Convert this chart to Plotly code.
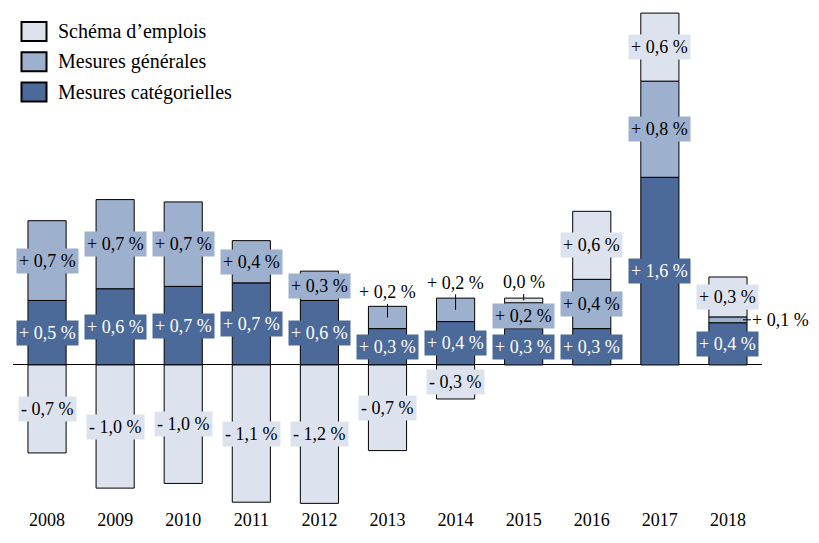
import plotly.graph_objects as go

# ---------------- data ----------------
years = ["2008", "2009", "2010", "2011", "2012", "2013", "2014", "2015", "2016", "2017", "2018"]
categorielles = [0.55, 0.65, 0.67, 0.70, 0.55, 0.31, 0.37, 0.31, 0.31, 1.60, 0.36]
generales = [0.68, 0.76, 0.72, 0.36, 0.25, 0.19, 0.20, 0.22, 0.42, 0.82, 0.05]
schema = [-0.75, -1.05, -1.01, -1.17, -1.18, -0.73, -0.29, 0.04, 0.58, 0.58, 0.34]

lbl_cat = ["+ 0,5 %", "+ 0,6 %", "+ 0,7 %", "+ 0,7 %", "+ 0,6 %", "+ 0,3 %", "+ 0,4 %", "+ 0,3 %", "+ 0,3 %", "+ 1,6 %", "+ 0,4 %"]
lbl_gen = ["+ 0,7 %", "+ 0,7 %", "+ 0,7 %", "+ 0,4 %", "+ 0,3 %", "+ 0,2 %", "+ 0,2 %", "+ 0,2 %", "+ 0,4 %", "+ 0,8 %", "+ 0,1 %"]
lbl_sch = ["- 0,7 %", "- 1,0 %", "- 1,0 %", "- 1,1 %", "- 1,2 %", "- 0,7 %", "- 0,3 %", "0,0 %", "+ 0,6 %", "+ 0,6 %", "+ 0,3 %"]

series_names = ["Schéma d’emplois", "Mesures générales", "Mesures catégorielles"]

# ---------------- style ----------------
C_LIGHT = "#dde3ee"
C_MED = "#9db0ce"
C_DARK = "#4b6a9a"
FONT = "Liberation Serif"
W, H = 819, 543
ML, MR, MT, MB = 13, 57, 7, 36
PW, PH = W - ML - MR, H - MT - MB

# labels drawn outside their segment: (series, index) -> (ax, ay, standoff)
outside = {
    ("gen", 5): (0, -25, 0),
    ("gen", 6): (0, -27, 0),
    ("sch", 7): (0, -18, 0),
    ("gen", 10): (53, 0, 15),
}

fig = go.Figure()
bar_line = dict(color="black", width=1)
fig.add_trace(go.Bar(x=years, y=categorielles, name=series_names[2], marker=dict(color=C_DARK, line=bar_line)))
fig.add_trace(go.Bar(x=years, y=generales, name=series_names[1], marker=dict(color=C_MED, line=bar_line)))
fig.add_trace(go.Bar(x=years, y=schema, name=series_names[0], marker=dict(color=C_LIGHT, line=bar_line)))

annotations = []


def add_label(key, i, y, text, bg, fc):
    # on a category axis annotation x is the category's serial index
    if (key, i) in outside:
        ax, ay, st = outside[(key, i)]
        annotations.append(dict(x=i, y=y, xref="x", yref="y", text=text, showarrow=True,
                                arrowhead=0, arrowwidth=1, arrowcolor="black", ax=ax, ay=ay,
                                standoff=st, font=dict(family=FONT, size=18, color="black")))
    else:
        annotations.append(dict(x=i, y=y, xref="x", yref="y", text=text, showarrow=False,
                                bgcolor=bg, borderpad=2, font=dict(family=FONT, size=18, color=fc)))


for i in range(len(years)):
    c, g, s = categorielles[i], generales[i], schema[i]
    add_label("cat", i, c / 2, lbl_cat[i], C_DARK, "white")
    add_label("gen", i, c + g / 2, lbl_gen[i], C_MED, "black")
    sy = c + g + s / 2 if s >= 0 else s / 2
    add_label("sch", i, sy, lbl_sch[i], C_LIGHT, "black")


# legend drawn manually (larger swatches than plotly's built-in legend)
def px_x(p):
    return (p - ML) / PW


def px_y(p):
    return (MT + PH - p) / PH


shapes = []
legend_rows = [(series_names[0], C_LIGHT, 31.5), (series_names[1], C_MED, 61.7), (series_names[2], C_DARK, 92)]
for name, col, yc in legend_rows:
    shapes.append(dict(type="rect", xref="paper", yref="paper", x0=px_x(21.5), x1=px_x(46.5),
                       y0=px_y(yc + 9.5), y1=px_y(yc - 9.5), fillcolor=col,
                       line=dict(color="black", width=2)))
    annotations.append(dict(x=px_x(56), y=px_y(yc), xref="paper", yref="paper", xanchor="left",
                            yanchor="middle", text=name, showarrow=False,
                            font=dict(family=FONT, size=20, color="black")))

fig.update_layout(
    width=W, height=H,
    margin=dict(l=ML, r=MR, t=MT, b=MB),
    barmode="relative",
    bargap=0.44,
    showlegend=False,
    plot_bgcolor="white",
    paper_bgcolor="white",
    font=dict(family=FONT, size=18, color="black"),
    annotations=annotations,
    shapes=shapes,
    xaxis=dict(type="category", range=[-0.5, 10.5], showgrid=False, showline=False,
               ticks="", tickfont=dict(family=FONT, size=18, color="black")),
    yaxis=dict(range=[-1.211, 3.052], showgrid=False, showticklabels=False, ticks="",
               zeroline=True, zerolinecolor="black", zerolinewidth=1, showline=False),
)

fig.write_html("out.html", config={"displayModeBar": False},
               post_script="document.body.style.margin='0';")
